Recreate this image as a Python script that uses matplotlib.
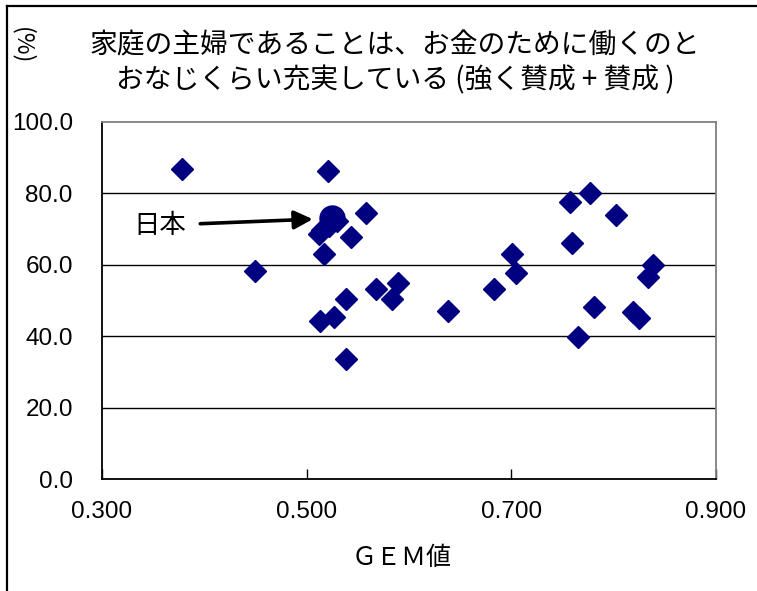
import matplotlib
matplotlib.use("Agg")
import matplotlib.pyplot as plt
from matplotlib.lines import Line2D
from matplotlib.ticker import FormatStrFormatter

plt.rcParams['font.family'] = ['Liberation Sans', 'Noto Sans CJK JP', 'DejaVu Sans']
JP = ['Noto Sans CJK JP', 'Liberation Sans', 'DejaVu Sans']

# GEM value vs. share agreeing (%)
gem = [0.378, 0.450, 0.521, 0.530, 0.522, 0.515, 0.512, 0.517, 0.558, 0.543,
       0.568, 0.589, 0.583, 0.538, 0.513, 0.527, 0.538, 0.638, 0.683, 0.701,
       0.705, 0.757, 0.777, 0.802, 0.759, 0.838, 0.834, 0.781, 0.819, 0.825,
       0.765]
agree = [86.7, 58.3, 86.3, 72.3, 71.0, 69.8, 68.6, 63.0, 74.4, 67.8,
         53.2, 55.0, 50.3, 50.4, 44.3, 45.3, 33.6, 47.1, 53.1, 63.0,
         57.6, 77.7, 80.0, 73.9, 66.0, 59.9, 56.5, 48.2, 46.9, 45.2,
         39.9]
japan = (0.525, 73.0)

x_ticks = [0.3, 0.5, 0.7, 0.9]
y_ticks = [0, 20, 40, 60, 80, 100]

title = "家庭の主婦であることは、お金のために働くのと\nおなじくらい充実している (強く賛成 + 賛成 )"

fig = plt.figure(figsize=(7.57, 5.91), dpi=100, facecolor='white')
ax = fig.add_axes([0.1347, 0.1895, 0.8111, 0.6041])

for v in y_ticks[1:-1]:
    ax.axhline(v, color='black', lw=1.0, zorder=1)

ax.plot(gem, agree, ls='none', marker='D', ms=11, color='#000080',
        mec='#000080', zorder=3)
ax.plot([japan[0]], [japan[1]], ls='none', marker='o', ms=18,
        color='#000080', mec='#000080', zorder=3)

ax.annotate("日本", xy=japan, xytext=(-124, -5), textcoords='offset points',
            ha='center', va='center', fontsize=19, family=JP,
            arrowprops=dict(arrowstyle='-|>', color='black', lw=2.6,
                            mutation_scale=28, shrinkA=8, shrinkB=14))

ax.set_xlim(0.3, 0.9)
ax.set_ylim(0, 100)
ax.set_xticks(x_ticks)
ax.set_yticks(y_ticks)
ax.xaxis.set_major_formatter(FormatStrFormatter('%.3f'))
ax.yaxis.set_major_formatter(FormatStrFormatter('%.1f'))
ax.tick_params(axis='both', direction='in', length=7, width=1,
               labelsize=17.5, colors='black')
ax.tick_params(axis='x', pad=16)
ax.tick_params(axis='y', pad=21, length=0)

for s in ['left', 'bottom']:
    ax.spines[s].set_color('black')
    ax.spines[s].set_linewidth(1.3)
for s in ['top', 'right']:
    ax.spines[s].set_color('#808080')
    ax.spines[s].set_linewidth(1.3)

fig.text(0.522, 1 - 63 / 591, title, ha='center', va='center', fontsize=20,
         family=JP, linespacing=1.25)
fig.text(0.53, 1 - 558 / 591, "ＧＥＭ値", ha='center', va='center',
         fontsize=18, family=JP)
fig.text(22 / 757, 1 - 46 / 591, "(%)", ha='center', va='center',
         fontsize=17, rotation=270, family=JP)

# outer chart frame (left and top edges only visible)
fig.add_artist(Line2D([7 / 757, 7 / 757], [0, 1 - 6 / 591],
                      color='black', lw=1.6, transform=fig.transFigure))
fig.add_artist(Line2D([7 / 757, 1], [1 - 6 / 591, 1 - 6 / 591],
                      color='black', lw=1.6, transform=fig.transFigure))

fig.savefig("out.png", dpi=100, facecolor='white')
